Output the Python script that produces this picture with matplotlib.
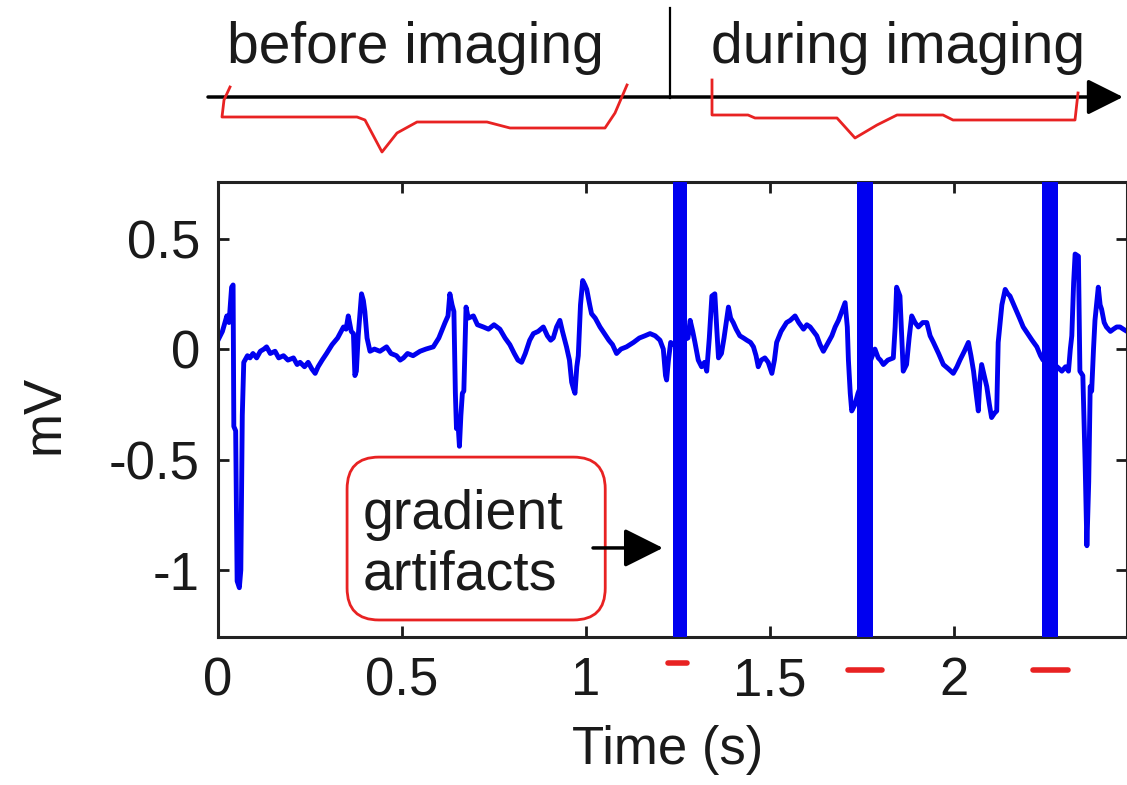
import numpy as np
import matplotlib
matplotlib.use('Agg')
import matplotlib.pyplot as plt
from matplotlib.patches import FancyBboxPatch
from matplotlib.lines import Line2D

# ECG trace (time in s, amplitude in mV)
time = [0.000, 0.012, 0.024, 0.030, 0.037, 0.041, 0.043, 0.048, 0.052, 0.058, 0.062, 0.066, 0.070,
        0.080, 0.087, 0.095, 0.105, 0.115, 0.125, 0.132, 0.142, 0.155, 0.165, 0.178, 0.190, 0.205,
        0.215, 0.223, 0.235, 0.245, 0.255, 0.264, 0.272, 0.283, 0.295, 0.310, 0.325, 0.341, 0.348,
        0.354, 0.362, 0.368, 0.372, 0.376, 0.381, 0.390, 0.395, 0.399, 0.405, 0.413, 0.425, 0.440,
        0.458, 0.470, 0.485, 0.495, 0.504, 0.515, 0.530, 0.549, 0.565, 0.585, 0.600, 0.617, 0.625,
        0.630, 0.636, 0.641, 0.645, 0.648, 0.652, 0.656, 0.660, 0.664, 0.668, 0.674, 0.680, 0.694,
        0.705, 0.721, 0.735, 0.750, 0.766, 0.780, 0.793, 0.805, 0.815, 0.825, 0.835, 0.847, 0.857,
        0.870, 0.884, 0.895, 0.904, 0.911, 0.920, 0.929, 0.936, 0.947, 0.955, 0.961, 0.966, 0.970,
        0.975, 0.979, 0.985, 0.991, 0.997, 1.002, 1.010, 1.015, 1.025, 1.038, 1.050, 1.062, 1.072,
        1.083, 1.095, 1.110, 1.129, 1.145, 1.160, 1.174, 1.188, 1.201, 1.210, 1.216, 1.219, 1.224,
        1.230, 1.237,
        1.277, 1.283, 1.290, 1.296, 1.305, 1.314, 1.322, 1.328, 1.335, 1.342, 1.350, 1.355, 1.360,
        1.368, 1.375, 1.387, 1.393, 1.400, 1.408, 1.418, 1.428, 1.437, 1.447, 1.455, 1.462, 1.468,
        1.476, 1.486, 1.495, 1.505, 1.512, 1.518, 1.530, 1.545, 1.555, 1.568, 1.578, 1.591, 1.600,
        1.609, 1.618, 1.627, 1.636, 1.645, 1.655, 1.668, 1.677, 1.686, 1.695, 1.704, 1.710, 1.713,
        1.718, 1.722, 1.731, 1.739,
        1.785, 1.794, 1.800, 1.808, 1.820, 1.835, 1.840, 1.844, 1.853, 1.858, 1.862, 1.871, 1.878,
        1.885, 1.894, 1.903, 1.915, 1.926, 1.935, 1.944, 1.958, 1.971, 1.985, 1.998, 2.008, 2.016,
        2.028, 2.039, 2.046, 2.053, 2.060, 2.066, 2.070, 2.075, 2.082, 2.089, 2.096, 2.102, 2.110,
        2.116, 2.120, 2.130, 2.139, 2.146, 2.152, 2.165, 2.178, 2.188, 2.200, 2.212, 2.225, 2.235,
        2.242,
        2.280, 2.293, 2.303, 2.311, 2.316, 2.320, 2.325, 2.329, 2.338, 2.342, 2.350, 2.356, 2.361,
        2.366, 2.370, 2.374, 2.379, 2.383, 2.392, 2.397, 2.401, 2.408, 2.414, 2.425, 2.433, 2.442,
        2.451, 2.460, 2.470]
mv = [0.04, 0.08, 0.15, 0.12, 0.28, 0.29, -0.35, -0.37, -1.05, -1.08, -1.00, -0.30, -0.06,
      -0.03, -0.04, -0.02, -0.04, -0.01, 0.00, 0.01, -0.02, -0.01, -0.04, -0.03, -0.05, -0.04,
      -0.07, -0.06, -0.08, -0.06, -0.09, -0.11, -0.08, -0.05, -0.02, 0.02, 0.05, 0.10, 0.09,
      0.15, 0.08, 0.07, -0.12, -0.10, 0.06, 0.25, 0.22, 0.17, 0.05, -0.01, 0.00, -0.01,
      0.01, -0.02, -0.03, -0.05, -0.04, -0.02, -0.03, -0.01, 0.00, 0.01, 0.05, 0.12, 0.15,
      0.25, 0.20, 0.17, -0.20, -0.36, -0.33, -0.44, -0.30, -0.20, -0.19, 0.19, 0.14, 0.15,
      0.11, 0.10, 0.09, 0.11, 0.09, 0.05, 0.02, -0.02, -0.05, -0.06, -0.02, 0.04, 0.07,
      0.08, 0.10, 0.06, 0.04, 0.05, 0.10, 0.13, 0.08, 0.01, -0.05, -0.15, -0.18, -0.20,
      -0.08, -0.03, 0.20, 0.31, 0.29, 0.27, 0.20, 0.16, 0.14, 0.10, 0.07, 0.04, 0.02,
      -0.02, 0.00, 0.01, 0.03, 0.05, 0.06, 0.07, 0.06, 0.04, 0.00, -0.12, -0.14, -0.05,
      0.03, 0.02,
      0.05, 0.13, 0.08, 0.03, -0.05, -0.08, -0.06, -0.10, 0.05, 0.24, 0.25, 0.10, -0.04,
      -0.02, 0.05, 0.19, 0.14, 0.12, 0.09, 0.06, 0.05, 0.04, 0.03, 0.01, -0.03, -0.08,
      -0.05, -0.04, -0.06, -0.11, -0.05, 0.03, 0.08, 0.12, 0.13, 0.15, 0.12, 0.09, 0.11,
      0.10, 0.08, 0.06, 0.02, -0.01, 0.02, 0.06, 0.10, 0.13, 0.17, 0.21, 0.10, -0.05,
      -0.20, -0.28, -0.25, -0.20,
      0.00, -0.04, -0.05, -0.07, -0.05, -0.04, 0.10, 0.28, 0.24, 0.05, -0.10, -0.07, 0.05,
      0.15, 0.12, 0.10, 0.12, 0.12, 0.06, 0.03, -0.02, -0.07, -0.09, -0.11, -0.08, -0.05,
      -0.01, 0.03, -0.03, -0.10, -0.20, -0.28, -0.15, -0.07, -0.12, -0.17, -0.25, -0.31, -0.29,
      -0.28, 0.03, 0.20, 0.27, 0.25, 0.24, 0.19, 0.14, 0.10, 0.07, 0.04, 0.01, -0.03,
      -0.05,
      -0.08, -0.10, -0.08, -0.10, 0.00, 0.06, 0.30, 0.43, 0.42, -0.10, -0.12, -0.50, -0.89,
      -0.60, -0.17, -0.19, 0.00, 0.13, 0.28, 0.20, 0.18, 0.12, 0.10, 0.08, 0.09, 0.10,
      0.10, 0.09, 0.08]

# gradient artifact bursts (saturate the whole axis)
artifact_start = [1.236, 1.736, 2.239]
artifact_end = [1.274, 1.779, 2.282]

# red marks under the time axis
mark_start = [1.223, 1.712, 2.215]
mark_end = [1.274, 1.804, 2.310]
mark_level = [-1.421, -1.452, -1.452]

xticks = [0, 0.5, 1, 1.5, 2]
xticklabels = ['0', '0.5', '1', '1.5', '2']
yticks = [-1, -0.5, 0, 0.5]
yticklabels = ['-1', '-0.5', '0', '0.5']

plt.rcParams['font.family'] = ['Liberation Sans', 'DejaVu Sans']
plt.rcParams['axes.unicode_minus'] = False

W, H = 1127, 785
blue = '#0000f0'
red = '#e82222'
ink = '#1a1a1a'

fig = plt.figure(figsize=(W / 100, H / 100), dpi=100)
ax = fig.add_axes([218 / W, (H - 637) / H, (W - 218) / W, (637 - 182) / H])

ax.plot(time, mv, color=blue, lw=3.5)
for a, b in zip(artifact_start, artifact_end):
    ax.axvspan(a, b, color=blue, lw=0, zorder=3)

ax.set_xlim(0, 2.47)
ax.set_ylim(-1.303, 0.756)
ax.set_xticks(xticks)
ax.set_xticklabels(xticklabels)
ax.set_yticks(yticks)
ax.set_yticklabels(yticklabels)
ax.tick_params(direction='in', length=8, width=2, top=True, right=True,
               labelsize=38, labelcolor=ink, color=ink)
ax.tick_params(axis='x', pad=14)
ax.tick_params(axis='y', pad=13)
for s in ax.spines.values():
    s.set_linewidth(2.2)
    s.set_color('#222222')

ax.set_ylabel('mV', fontsize=38, color=ink)
ax.yaxis.set_label_coords(-0.163, 0.49)
ax.set_xlabel('Time (s)', fontsize=38, color=ink)
ax.xaxis.set_label_coords(0.495, -0.193)

for a, b, y in zip(mark_start, mark_end, mark_level):
    ax.plot([a, b], [y, y], color=red, lw=4, clip_on=False, solid_capstyle='round')

# "gradient artifacts" note
ax.text(0.394, -0.887, 'gradient\nartifacts', fontsize=40, ha='left', va='center', color=ink)
ax.add_patch(FancyBboxPatch((0.142, 0.0374), 0.284, 0.358,
                            boxstyle='round,pad=0,rounding_size=0.035', mutation_aspect=2,
                            transform=ax.transAxes, fill=False, ec=red, lw=2, clip_on=False))
ax.annotate('', xy=(1.209, -0.90), xytext=(1.019, -0.90),
            arrowprops=dict(arrowstyle='-|>', color='k', lw=2.5, mutation_scale=60,
                            shrinkA=0, shrinkB=0))

# timeline above the plot
ax.annotate('', xy=(1123, H - 97), xycoords='figure pixels',
            xytext=(208, H - 97), textcoords='figure pixels',
            arrowprops=dict(arrowstyle='-|>', color='k', lw=2.5, mutation_scale=55,
                            shrinkA=0, shrinkB=0),
            annotation_clip=False)
fig.add_artist(Line2D([670 / W, 670 / W], [1 - 8 / H, 1 - 98 / H], color='k', lw=1.6))
fig.text(415 / W, 1 - 63 / H, 'before imaging', fontsize=41, ha='center', va='baseline', color=ink)
fig.text(898 / W, 1 - 63 / H, 'during imaging', fontsize=41, ha='center', va='baseline', color=ink)

# hand drawn braces (pixel positions in the picture)
braces = [
    [(230, 87), (224, 100), (222, 117), (300, 117), (357, 117), (365, 120), (382, 152),
     (397, 133), (417, 122), (487, 122), (510, 128), (605, 128), (615, 113), (627, 85)],
    [(712, 80), (712, 115), (748, 115), (755, 118), (837, 118), (855, 138), (877, 125),
     (897, 115), (943, 115), (953, 120), (1075, 120), (1078, 93)],
]
for pts in braces:
    p = np.array(pts, dtype=float)
    fig.add_artist(Line2D(p[:, 0] / W, 1 - p[:, 1] / H, color=red, lw=2))

fig.savefig('out.png', dpi=100, facecolor='white')
